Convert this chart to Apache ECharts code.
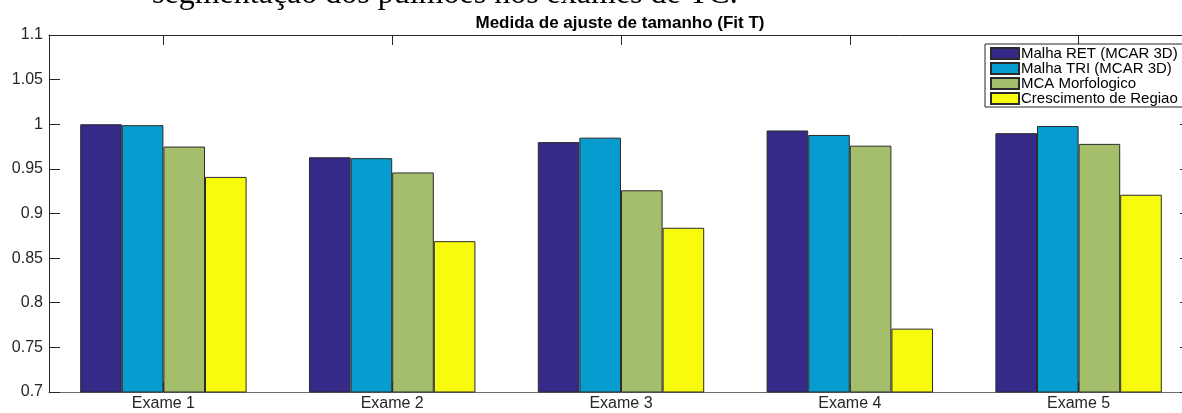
<!DOCTYPE html>
<html>
<head>
<meta charset="utf-8">
<script src="https://cdn.jsdelivr.net/npm/echarts@6/dist/echarts.min.js"></script>
<style>
  html, body { margin: 0; padding: 0; background: #fff; }
  #chart { width: 1182px; height: 413px; }
</style>
</head>
<body>
<div id="chart"></div>
<script>
// Fit T (size fit measure) per exam, for each segmentation method
const categories = ['Exame 1', 'Exame 2', 'Exame 3', 'Exame 4', 'Exame 5'];
const seriesNames = ['Malha RET (MCAR 3D)', 'Malha TRI (MCAR 3D)', 'MCA Morfologico', 'Crescimento de Regiao'];
const malhaRet = [1.000, 0.963, 0.980, 0.993, 0.990];
const malhaTri = [0.999, 0.962, 0.985, 0.988, 0.998];
const mcaMorfologico = [0.975, 0.946, 0.926, 0.976, 0.978];
const crescimentoRegiao = [0.941, 0.869, 0.884, 0.771, 0.921];
const yTicks = { min: 0.7, max: 1.1, step: 0.05 };

const colors = ['#352A87', '#079CCF', '#A5BE6B', '#F9FB0E'];
const values = [malhaRet, malhaTri, mcaMorfologico, crescimentoRegiao];
const axisColor = '#262626';
const sans = 'Liberation Sans, Arial, Helvetica, sans-serif';

const chart = echarts.init(document.getElementById('chart'), null, { renderer: 'canvas' });

chart.setOption({
  animation: false,
  backgroundColor: '#ffffff',
  color: colors,
  title: {
    text: 'Medida de ajuste de tamanho (Fit T)',
    left: 620,
    top: 15,
    textAlign: 'center',
    padding: 0,
    textStyle: { fontFamily: sans, fontSize: 17, fontWeight: 'bold', color: '#000' }
  },
  graphic: [{
    type: 'text',
    left: 152,
    top: -21,
    style: {
      text: 'segmentação dos pulmões nos exames de TC.',
      font: '32px "Liberation Serif", "Times New Roman", serif',
      fill: '#000'
    },
    z: 10
  }],
  legend: {
    orient: 'vertical',
    left: 985,
    top: 44,
    padding: [2, 8, 1, 5],
    itemGap: 0,
    itemWidth: 28,
    itemHeight: 11,
    backgroundColor: '#fff',
    borderColor: axisColor,
    borderWidth: 1,
    borderRadius: 0,
    icon: 'rect',
    textStyle: { fontFamily: sans, fontSize: 15, color: '#000', lineHeight: 15, padding: [0, 0, 0, -3] },
    data: seriesNames
  },
  // the axes box runs a little past the right edge of the canvas
  grid: { left: 49, top: 35, width: 1144, bottom: 21, containLabel: false, outerBoundsMode: 'none' },
  xAxis: [{
    type: 'category',
    data: categories,
    position: 'bottom',
    axisLine: { show: true, lineStyle: { color: '#6e6e6e', width: 1 } },
    axisTick: { show: true, inside: true, length: 10, alignWithLabel: true, lineStyle: { color: axisColor } },
    axisLabel: { fontFamily: sans, fontSize: 16, color: axisColor, margin: 4 },
    splitLine: { show: false }
  }, {
    type: 'category',
    data: categories,
    position: 'top',
    axisLine: { show: true, lineStyle: { color: axisColor, width: 1 } },
    axisTick: { show: true, inside: true, length: 10, alignWithLabel: true, lineStyle: { color: axisColor } },
    axisLabel: { show: false },
    splitLine: { show: false }
  }],
  yAxis: [{
    type: 'value',
    min: yTicks.min,
    max: yTicks.max,
    interval: yTicks.step,
    position: 'left',
    axisLine: { show: true, lineStyle: { color: axisColor, width: 1 } },
    axisTick: { show: true, inside: true, length: 11, lineStyle: { color: axisColor } },
    axisLabel: {
      fontFamily: sans, fontSize: 16, color: axisColor, margin: 6,
      formatter: v => String(parseFloat(v.toFixed(2)))
    },
    splitLine: { show: false }
  }, {
    type: 'value',
    min: yTicks.min,
    max: yTicks.max,
    interval: yTicks.step,
    position: 'right',
    axisLine: { show: true, lineStyle: { color: axisColor, width: 1 } },
    axisTick: { show: true, inside: true, length: 13, lineStyle: { color: axisColor } },
    axisLabel: { show: false },
    splitLine: { show: false }
  }],
  series: seriesNames.map((name, i) => ({
    name,
    type: 'bar',
    data: values[i],
    barWidth: 41.6,
    barGap: '0%',
    itemStyle: { color: colors[i], borderColor: '#2b2b2b', borderWidth: 1 }
  }))
});
</script>
</body>
</html>
